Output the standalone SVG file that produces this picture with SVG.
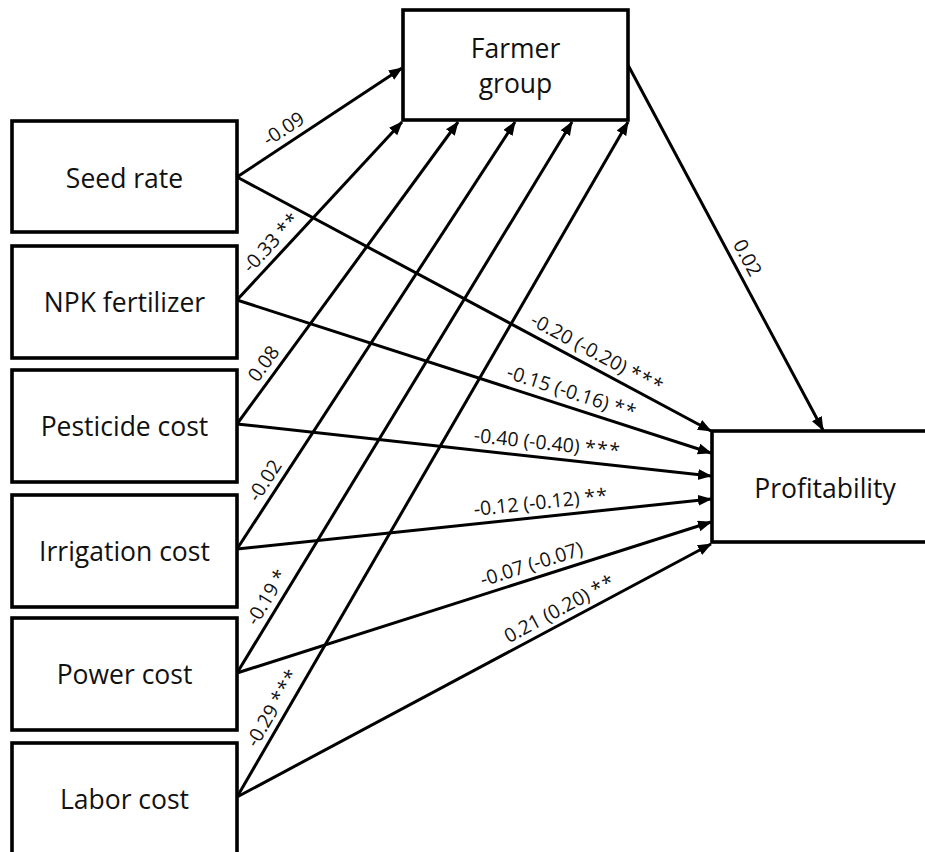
<svg xmlns="http://www.w3.org/2000/svg" width="925" height="852" viewBox="0 0 925 852">
  <style>
    .box { fill: #ffffff; stroke: #000000; stroke-width: 3.6; }
    .name { font-family: "Open Sans", "Noto Sans", sans-serif; font-size: 26.5px; fill: #111111; text-anchor: middle; }
    .arrow { stroke: #000000; stroke-width: 3; fill: none; marker-end: url(#head); }
    .coef { font-family: "Open Sans", "Noto Sans", sans-serif; font-size: 19.5px; fill: #111111; text-anchor: middle; }
    .star { letter-spacing: 1.5px; }
  </style>
  <defs>
    <marker id="head" markerUnits="userSpaceOnUse" markerWidth="15" markerHeight="12" refX="13" refY="5.5" orient="auto">
      <path d="M0,0 L14,5.5 L0,11 Z" fill="#000000"/>
    </marker>
  </defs>
  <rect width="925" height="852" fill="#ffffff"/>

  <!-- paths between variables -->
  <g id="connectors">
    <!-- predictors to Farmer group -->
    <line class="arrow" x1="237" y1="177" x2="402" y2="68"/>
    <line class="arrow" x1="237" y1="300" x2="402" y2="122"/>
    <line class="arrow" x1="237" y1="424" x2="458" y2="122"/>
    <line class="arrow" x1="237" y1="549" x2="515" y2="122"/>
    <line class="arrow" x1="237" y1="673" x2="572" y2="122"/>
    <line class="arrow" x1="237" y1="797" x2="628" y2="122"/>
    <!-- predictors to Profitability -->
    <line class="arrow" x1="237" y1="177" x2="711" y2="431"/>
    <line class="arrow" x1="237" y1="300" x2="711" y2="453"/>
    <line class="arrow" x1="237" y1="424" x2="711" y2="476"/>
    <line class="arrow" x1="237" y1="549" x2="711" y2="499"/>
    <line class="arrow" x1="237" y1="673" x2="711" y2="522"/>
    <line class="arrow" x1="237" y1="797" x2="711" y2="544"/>
    <!-- Farmer group to Profitability -->
    <line class="arrow" x1="628" y1="65" x2="823" y2="430"/>

    <!-- coefficients -->
    <text class="coef" transform="translate(291.7,141.1) rotate(-33.53)" x="0" y="-8">-0.09</text>
    <text class="coef" transform="translate(282.1,252.2) rotate(-47.16)" x="0" y="-8">-0.33 <tspan class="star">**</tspan></text>
    <text class="coef" transform="translate(275.5,372.4) rotate(-53.89)" x="0" y="-8">0.08</text>
    <text class="coef" transform="translate(277.1,488.5) rotate(-57.0)" x="0" y="-8">-0.02</text>
    <text class="coef" transform="translate(279.2,604.9) rotate(-58.75)" x="0" y="-8">-0.19 *</text>
    <text class="coef" transform="translate(285.4,714.9) rotate(-59.95)" x="0" y="-8">-0.29 <tspan class="star">***</tspan></text>

    <text class="coef" transform="translate(590.4,366.2) rotate(28.13)" x="0" y="-8">-0.20 (-0.20) <tspan class="star">***</tspan></text>
    <text class="coef" transform="translate(567.6,406.3) rotate(17.85)" x="0" y="-8">-0.15 (-0.16) <tspan class="star">**</tspan></text>
    <text class="coef" transform="translate(546,457.8) rotate(6.25)" x="0" y="-8">-0.40 (-0.40) <tspan class="star">***</tspan></text>
    <text class="coef" transform="translate(542.8,516.8) rotate(-6.01)" x="0" y="-8">-0.12 (-0.12) <tspan class="star">**</tspan></text>
    <text class="coef" transform="translate(535.9,578.1) rotate(-17.63)" x="0" y="-8">-0.07 (-0.07)</text>
    <text class="coef" transform="translate(566.8,621.5) rotate(-28.04)" x="0" y="-8">0.21 (0.20) <tspan class="star">**</tspan></text>

    <text class="coef" transform="translate(734.4,264.7) rotate(61.95)" x="0" y="-8">0.02</text>
  </g>

  <g id="farmer-group">
    <rect class="box" x="403" y="10" width="225" height="110"/>
    <text class="name" x="515.5" y="58">Farmer</text>
    <text class="name" x="515.5" y="93">group</text>
  </g>

  <g id="seed-rate">
    <rect class="box" x="12" y="121" width="225" height="111"/>
    <text class="name" x="124.5" y="188">Seed rate</text>
  </g>

  <g id="npk-fertilizer">
    <rect class="box" x="12" y="246" width="225" height="112"/>
    <text class="name" x="124.5" y="312">NPK fertilizer</text>
  </g>

  <g id="pesticide-cost">
    <rect class="box" x="12" y="370" width="225" height="112"/>
    <text class="name" x="124.5" y="436">Pesticide cost</text>
  </g>

  <g id="irrigation-cost">
    <rect class="box" x="12" y="495" width="225" height="112"/>
    <text class="name" x="124.5" y="561">Irrigation cost</text>
  </g>

  <g id="power-cost">
    <rect class="box" x="12" y="618" width="225" height="112"/>
    <text class="name" x="124.5" y="684">Power cost</text>
  </g>

  <g id="labor-cost">
    <rect class="box" x="12" y="743" width="225" height="120"/>
    <text class="name" x="124.5" y="809">Labor cost</text>
  </g>

  <g id="profitability">
    <rect class="box" x="712" y="431" width="232" height="111"/>
    <text class="name" x="825" y="498">Profitability</text>
  </g>
</svg>
